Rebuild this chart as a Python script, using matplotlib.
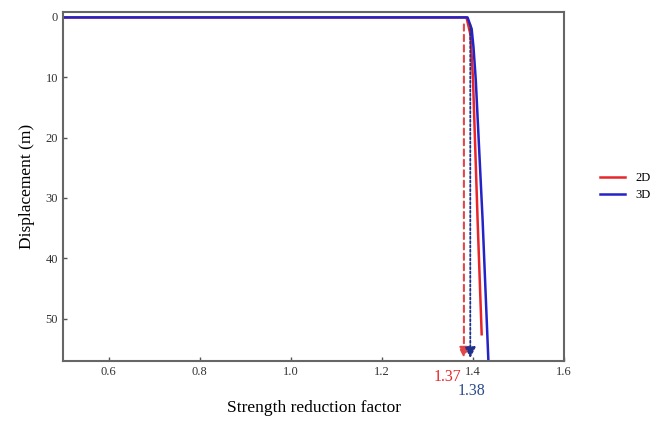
import matplotlib.pyplot as plt

plt.rcParams['font.family'] = ['Liberation Serif', 'DejaVu Serif']

# Strength reduction factor vs displacement
srf_2d = [0.5, 1.0, 1.3857, 1.3945, 1.400, 1.410, 1.419]
disp_2d = [0.1, 0.1, 0.1, 3.0, 10.4, 33.6, 52.6]
srf_3d = [0.5, 1.0, 1.388, 1.397, 1.401, 1.406, 1.421, 1.434]
disp_3d = [0.1, 0.1, 0.1, 2.0, 5.0, 10.4, 33.6, 57.5]

# critical factors: arrow positions and their labels
crit_x = [1.380, 1.394]
crit_labels = ["1.37", "1.38"]

fig = plt.figure(figsize=(6.7, 4.21), dpi=100)
ax = fig.add_axes([0.094, 0.143, 0.748, 0.8285])

ax.plot(srf_2d, disp_2d, color='#e8262a', lw=1.8, label='2D')
ax.plot(srf_3d, disp_3d, color='#2323c8', lw=1.8, label='3D')

# vertical arrows marking the critical factors
ax.annotate('', xy=(crit_x[0], 57), xytext=(crit_x[0], 0.8),
            arrowprops=dict(arrowstyle='-|>', color='#e04848', lw=1.5,
                            linestyle=(0, (3, 2)), mutation_scale=16))
ax.annotate('', xy=(crit_x[1], 57), xytext=(crit_x[1], 0.8),
            arrowprops=dict(arrowstyle='-|>', color='#1f2f8a', lw=1.3,
                            linestyle=(0, (1.2, 1.2)), mutation_scale=16))

ax.set_xlim(0.5, 1.6)
ax.set_ylim(57, -0.8)
ax.set_xticks([0.6, 0.8, 1.0, 1.2, 1.4, 1.6])
ax.set_xticklabels(['0.6', '0.8', '1.0', '1.2', '1.4', '1.6'])
ax.set_yticks([0, 10, 20, 30, 40, 50])

ax.tick_params(direction='in', length=3, width=1, colors='#555555',
               labelsize=9, labelcolor='#333333')
for s in ax.spines.values():
    s.set_color('#666666')
    s.set_linewidth(1.5)

ax.text(1.374, 58.4, crit_labels[0], color='#e8262a', fontsize=11.5,
        ha='right', va='top')
ax.text(1.397, 60.6, crit_labels[1], color='#2a4a8a', fontsize=11.5,
        ha='center', va='top')

ax.set_xlabel('Strength reduction factor', fontsize=12.5, labelpad=16)
ax.set_ylabel('Displacement (m)', fontsize=12.5, labelpad=8)

ax.legend(loc='center left', bbox_to_anchor=(1.05, 0.5), frameon=False,
          fontsize=9, handlelength=2.0, labelspacing=0.4)

fig.savefig('out.png', dpi=100)
